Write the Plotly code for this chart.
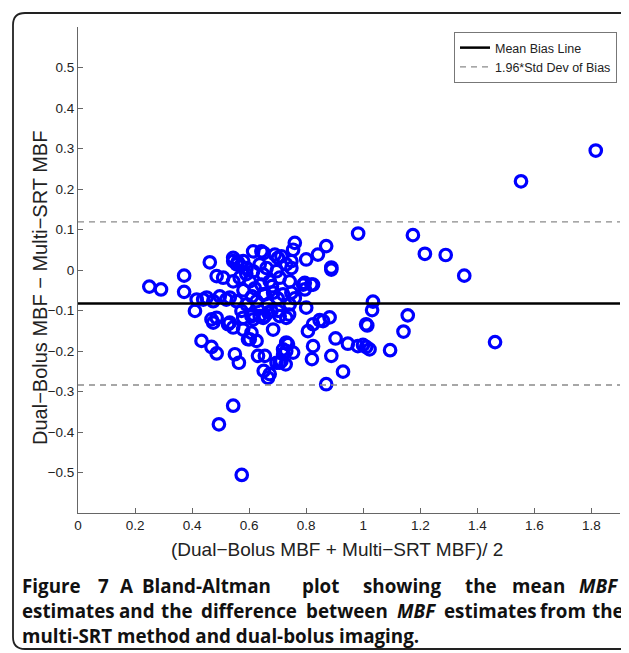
import plotly.graph_objects as go

# ---- data ----
mean_mbf = [
    1.815, 1.553, 0.982, 1.174, 1.216, 1.289, 1.354,
    0.888, 0.888, 0.870, 1.034, 1.031, 1.156, 1.010, 1.014, 1.141, 1.462, 0.903, 0.946, 0.981,
    0.999, 1.010, 1.022, 1.094, 0.929, 0.888, 0.882, 0.870,
    0.250, 0.291, 0.372, 0.372, 0.462, 0.410, 0.416, 0.439, 0.474, 0.433, 0.468, 0.486, 0.468,
    0.474, 0.486, 0.509, 0.526, 0.544, 0.550, 0.564, 0.544, 0.494, 0.574, 0.497, 0.520, 0.451,
    0.573, 0.579, 0.596, 0.608, 0.626, 0.631, 0.655, 0.655, 0.651, 0.666, 0.672, 0.684, 0.678,
    0.696, 0.713, 0.728, 0.719, 0.736, 0.754, 0.730, 0.740, 0.800, 0.806, 0.824, 0.820, 0.847,
    0.859, 0.824, 0.608, 0.602, 0.614, 0.637, 0.666, 0.707, 0.730, 0.730, 0.719, 0.707, 0.486,
    0.532, 0.579, 0.614, 0.649,
    0.544, 0.556, 0.579, 0.614, 0.643, 0.591, 0.614, 0.637, 0.649, 0.544, 0.567, 0.602, 0.643,
    0.532, 0.556, 0.591, 0.626, 0.655, 0.544, 0.560, 0.651, 0.701, 0.713, 0.760, 0.754, 0.748,
    0.690, 0.800, 0.841, 0.661, 0.696, 0.730, 0.748, 0.672, 0.707, 0.742, 0.789, 0.818, 0.795,
    0.824, 0.795, 0.649, 0.684, 0.719, 0.748, 0.666, 0.701, 0.742, 0.570, 0.590, 0.620, 0.680,
    0.700, 0.760, 0.580, 0.610,
]
diff_mbf = [
    0.295, 0.219, 0.090, 0.086, 0.040, 0.037, -0.014,
    0.006, 0.001, 0.059, -0.078, -0.099, -0.112, -0.134, -0.137, -0.152, -0.178, -0.169, -0.182, -0.188,
    -0.185, -0.190, -0.196, -0.198, -0.251, -0.212, -0.117, -0.282,
    -0.041, -0.048, -0.014, -0.054, 0.019, -0.101, -0.073, -0.073, -0.077, -0.175, -0.190, -0.206, -0.122,
    -0.130, -0.015, -0.019, -0.134, -0.142, -0.208, -0.229, -0.335, -0.381, -0.506, -0.065, -0.073, -0.068,
    -0.101, -0.147, -0.171, -0.114, -0.175, -0.212, -0.212, -0.114, -0.249, -0.266, -0.257, -0.147, -0.101,
    -0.229, -0.225, -0.233, -0.196, -0.183, -0.204, -0.118, -0.110, -0.093, -0.151, -0.188, -0.220, -0.124,
    -0.126, -0.134, -0.155, -0.171, -0.122, -0.114, -0.105, -0.114, -0.179, -0.200, -0.208, -0.229, -0.118,
    -0.130, -0.118, -0.110, -0.118,
    0.030, 0.014, 0.022, 0.046, 0.046, 0.005, -0.003, 0.014, -0.011, -0.028, -0.019, -0.028, -0.036,
    -0.068, -0.077, -0.085, -0.077, -0.060, 0.022, 0.020, 0.042, 0.030, 0.034, 0.067, 0.050, 0.022,
    0.038, 0.026, 0.038, 0.005, -0.003, 0.014, 0.005, -0.028, -0.019, -0.028, -0.036, -0.036, -0.032,
    -0.036, -0.048, -0.060, -0.056, -0.060, -0.056, -0.085, -0.101, -0.085, 0.010, -0.010, -0.045, -0.040,
    -0.070, -0.070, -0.050, -0.065,
]
mean_bias = -0.0825
loa_upper = 0.119
loa_lower = -0.284
x_range = [0, 1.9]
y_range = [-0.6, 0.6]
x_ticks = [0, 0.2, 0.4, 0.6, 0.8, 1, 1.2, 1.4, 1.6, 1.8]
y_ticks = [-0.5, -0.4, -0.3, -0.2, -0.1, 0, 0.1, 0.2, 0.3, 0.4, 0.5]

caption_line1 = ["Figure", "7", "A", "Bland-Altman", "plot", "showing", "the", "mean", "MBF"]
caption_line1_x = [20, 96, 118, 140, 300, 361, 463, 510, 577]
caption_line2 = ["estimates", "and", "the", "difference", "between", "MBF", "estimates", "from", "the"]
caption_line2_x = [20, 117, 159, 199, 304, 395, 442, 538, 590]
caption_line3 = "multi-SRT method and dual-bolus imaging."

# ---- layout geometry ----
# The page body has an 8px default margin, so the figure is drawn 8px smaller
# and all page positions below are given in page pixels.
OFF = 8
W, H = 629 - OFF, 653 - OFF
PL, PR, PT, PB = 78, 620, 27, 513          # plot area in page pixels
L, T = PL - OFF, PT - OFF
R = W - (PR - OFF)
B = H - (PB - OFF)
pw, ph = PR - PL, PB - PT


def px(x):
    return (x - PL) / pw


def py(y):
    return (PB - y) / ph


narrow = "Liberation Sans Narrow, Arial Narrow, sans-serif"
tick_font = dict(family=narrow, size=13.5, color="#222")
ytitle_font = dict(family=narrow, size=20, color="#222")
xtitle_font = dict(family=narrow, size=19, color="#222")
cap_font = dict(family="Open Sans, sans-serif", size=18.8, color="#111")

fig = go.Figure()
fig.add_trace(go.Scatter(
    x=mean_mbf, y=diff_mbf, mode="markers", showlegend=False,
    marker=dict(symbol="circle-open", size=11.5, color="#0000ff", line=dict(width=3.2, color="#0000ff")),
))
fig.add_trace(go.Scatter(
    x=x_range, y=[mean_bias, mean_bias], mode="lines", name="Mean Bias Line",
    line=dict(color="black", width=2.5),
))
fig.add_trace(go.Scatter(
    x=x_range, y=[loa_upper, loa_upper], mode="lines", name="1.96*Std Dev of Bias",
    line=dict(color="#8a8a8a", width=1.3, dash="6px,5px"), legendgroup="loa",
))
fig.add_trace(go.Scatter(
    x=x_range, y=[loa_lower, loa_lower], mode="lines", showlegend=False,
    line=dict(color="#8a8a8a", width=1.3, dash="6px,5px"), legendgroup="loa",
))

annotations = [
    dict(text="Dual\u2212Bolus MBF \u2212 Multi\u2212SRT MBF", textangle=-90, x=px(40), y=py(288),
         xref="paper", yref="paper", showarrow=False, font=ytitle_font, xanchor="center", yanchor="middle"),
    dict(text="(Dual\u2212Bolus MBF + Multi\u2212SRT MBF)/ 2", x=px(337), y=py(549),
         xref="paper", yref="paper", showarrow=False, font=xtitle_font, xanchor="center", yanchor="middle"),
]
for w, xw in zip(caption_line1, caption_line1_x):
    t = "<b><i>%s</i></b>" % w if w == "MBF" else "<b>%s</b>" % w
    annotations.append(dict(text=t, x=px(xw), y=py(586), xref="paper", yref="paper", showarrow=False,
                            font=cap_font, xanchor="left", yanchor="middle"))
for w, xw in zip(caption_line2, caption_line2_x):
    t = "<b><i>%s</i></b>" % w if w == "MBF" else "<b>%s</b>" % w
    annotations.append(dict(text=t, x=px(xw), y=py(611), xref="paper", yref="paper", showarrow=False,
                            font=cap_font, xanchor="left", yanchor="middle"))
annotations.append(dict(text="<b>%s</b>" % caption_line3, x=px(20), y=py(636), xref="paper", yref="paper",
                        showarrow=False, font=cap_font, xanchor="left", yanchor="middle"))

# rounded frame around the figure (page pixels)
x0, y0, x1, y1, r = 13, 13, 660, 649, 12
frame = (f"M {px(x0)},{py(y0 + r)} L {px(x0)},{py(y1 - r)} Q {px(x0)},{py(y1)} {px(x0 + r)},{py(y1)} "
         f"L {px(x1)},{py(y1)} M {px(x0)},{py(y0 + r)} Q {px(x0)},{py(y0)} {px(x0 + r)},{py(y0)} "
         f"L {px(x1)},{py(y0)}")

fig.update_layout(
    width=W, height=H, margin=dict(l=L, r=R, t=T, b=B, autoexpand=False),
    paper_bgcolor="white", plot_bgcolor="white",
    showlegend=True,
    legend=dict(x=px(617), y=py(32), xanchor="right", yanchor="top", bordercolor="#777", borderwidth=1,
                bgcolor="white", font=dict(family=narrow, size=12.5, color="#222"),
                tracegroupgap=0, itemwidth=30),
    annotations=annotations,
    shapes=[dict(type="path", path=frame, xref="paper", yref="paper", line=dict(color="#222", width=1.8),
                 layer="above")],
)
fig.update_xaxes(range=x_range, tickvals=x_ticks, ticks="inside", ticklen=5, tickcolor="#666",
                 showline=True, linecolor="#666", linewidth=1, showgrid=False, zeroline=False,
                 tickfont=tick_font, mirror=False, automargin=False)
fig.update_yaxes(range=y_range, tickvals=y_ticks, ticks="inside", ticklen=5, tickcolor="#666",
                 showline=True, linecolor="#666", linewidth=1, showgrid=False, zeroline=False,
                 tickfont=tick_font, mirror=False, automargin=False)

fig.write_html("out.html")
